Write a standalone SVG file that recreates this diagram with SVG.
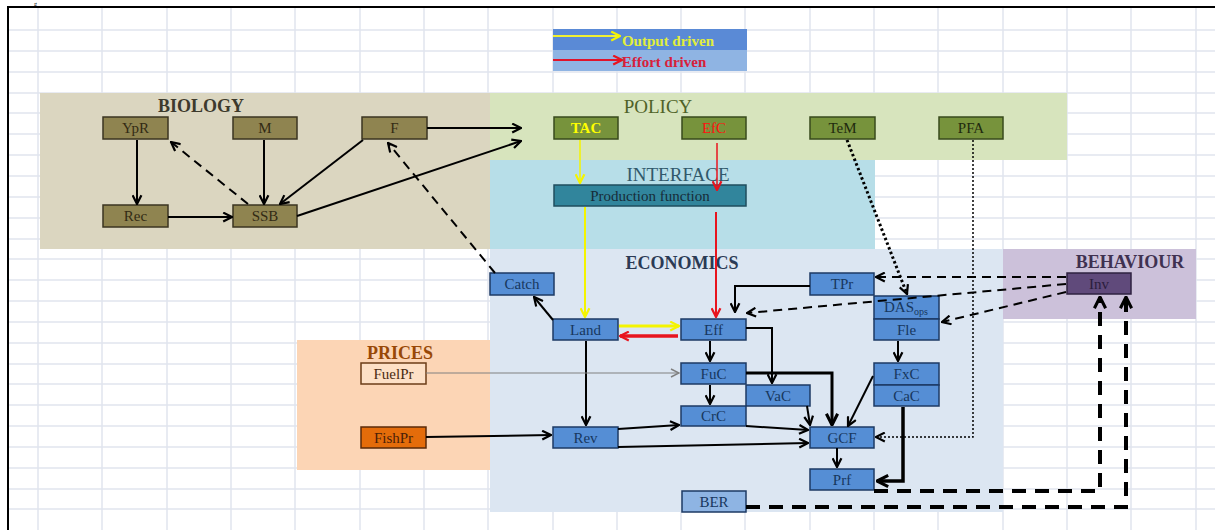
<svg xmlns="http://www.w3.org/2000/svg" width="1215" height="530" viewBox="0 0 1215 530">
<style>
text{font-family:"Liberation Serif","DejaVu Serif",serif;text-anchor:middle;dominant-baseline:central}
.grid line{stroke:#e1e5ee;stroke-width:1.5}
.lbl{font-size:18px;font-weight:bold}
.nt{font-size:15px}
.bio rect{fill:#8f8450;stroke:#3b3520;stroke-width:1.5}
.bio text{fill:#332b14}
.pol rect{fill:#77933c;stroke:#384a1c;stroke-width:1.5}
.pol text{fill:#1f2a0e}
.eco rect{fill:#558ed5;stroke:#1c3a64;stroke-width:1.5}
.eco text{fill:#17375e}
.k{fill:none;stroke:#000;stroke-width:2}
.dsh{stroke-dasharray:9 6}
.thk{stroke-width:3.5}
.tdsh{fill:none;stroke:#000;stroke-width:4;stroke-dasharray:14 9}
</style>
<defs>
<marker id="ak" viewBox="0 0 10 10" refX="9" refY="5" markerWidth="11" markerHeight="11" markerUnits="userSpaceOnUse" orient="auto"><path d="M1,1 L9,5 L1,9" fill="none" stroke="#000" stroke-width="2"/></marker>
<marker id="akb" viewBox="0 0 10 10" refX="9" refY="5" markerWidth="14" markerHeight="14" markerUnits="userSpaceOnUse" orient="auto"><path d="M1,1 L9,5 L1,9" fill="none" stroke="#000" stroke-width="2.2"/></marker>
<marker id="ay" viewBox="0 0 10 10" refX="9" refY="5" markerWidth="11" markerHeight="11" markerUnits="userSpaceOnUse" orient="auto"><path d="M1,1 L9,5 L1,9" fill="none" stroke="#f4f400" stroke-width="2"/></marker>
<marker id="ar" viewBox="0 0 10 10" refX="9" refY="5" markerWidth="11" markerHeight="11" markerUnits="userSpaceOnUse" orient="auto"><path d="M1,1 L9,5 L1,9" fill="none" stroke="#e8141e" stroke-width="2"/></marker>
<marker id="ag" viewBox="0 0 10 10" refX="9" refY="5" markerWidth="10" markerHeight="10" markerUnits="userSpaceOnUse" orient="auto"><path d="M1,1 L9,5 L1,9" fill="none" stroke="#808080" stroke-width="1.5"/></marker>
</defs>
<rect width="1215" height="530" fill="#fff"/>
<g class="grid">
<line x1="38" y1="7" x2="38" y2="530"/><line x1="102" y1="7" x2="102" y2="530"/><line x1="167" y1="7" x2="167" y2="530"/><line x1="231" y1="7" x2="231" y2="530"/><line x1="295" y1="7" x2="295" y2="530"/><line x1="360" y1="7" x2="360" y2="530"/><line x1="424" y1="7" x2="424" y2="530"/><line x1="488" y1="7" x2="488" y2="530"/><line x1="553" y1="7" x2="553" y2="530"/><line x1="617" y1="7" x2="617" y2="530"/><line x1="681" y1="7" x2="681" y2="530"/><line x1="745" y1="7" x2="745" y2="530"/><line x1="810" y1="7" x2="810" y2="530"/><line x1="874" y1="7" x2="874" y2="530"/><line x1="938" y1="7" x2="938" y2="530"/><line x1="1003" y1="7" x2="1003" y2="530"/><line x1="1067" y1="7" x2="1067" y2="530"/><line x1="1131" y1="7" x2="1131" y2="530"/><line x1="1196" y1="7" x2="1196" y2="530"/>
<line x1="8" y1="30" x2="1215" y2="30"/><line x1="8" y1="51" x2="1215" y2="51"/><line x1="8" y1="72" x2="1215" y2="72"/><line x1="8" y1="93" x2="1215" y2="93"/><line x1="8" y1="113" x2="1215" y2="113"/><line x1="8" y1="134" x2="1215" y2="134"/><line x1="8" y1="155" x2="1215" y2="155"/><line x1="8" y1="176" x2="1215" y2="176"/><line x1="8" y1="197" x2="1215" y2="197"/><line x1="8" y1="218" x2="1215" y2="218"/><line x1="8" y1="239" x2="1215" y2="239"/><line x1="8" y1="259" x2="1215" y2="259"/><line x1="8" y1="280" x2="1215" y2="280"/><line x1="8" y1="301" x2="1215" y2="301"/><line x1="8" y1="322" x2="1215" y2="322"/><line x1="8" y1="343" x2="1215" y2="343"/><line x1="8" y1="364" x2="1215" y2="364"/><line x1="8" y1="384" x2="1215" y2="384"/><line x1="8" y1="405" x2="1215" y2="405"/><line x1="8" y1="426" x2="1215" y2="426"/><line x1="8" y1="447" x2="1215" y2="447"/><line x1="8" y1="468" x2="1215" y2="468"/><line x1="8" y1="489" x2="1215" y2="489"/><line x1="8" y1="509" x2="1215" y2="509"/>
</g>
<g id="frame">
<line x1="7" y1="7" x2="1215" y2="7" stroke="#000" stroke-width="2"/>
<line x1="8" y1="7" x2="8" y2="530" stroke="#000" stroke-width="2"/>
<text x="34" y="5.5" style="font-size:6px;text-anchor:start;dominant-baseline:alphabetic" fill="#000">g</text>
</g>
<g id="regions">
<rect id="biology" x="40" y="93" width="450" height="156" fill="#dbd6c0"/>
<rect id="policy" x="490" y="93" width="577" height="67" fill="#d7e4bd"/>
<rect id="interface" x="490" y="160" width="385" height="89" fill="#b7dee8"/>
<rect id="economics" x="490" y="249" width="513" height="263" fill="#dce6f2"/>
<rect id="prices" x="297" y="340" width="193" height="130" fill="#fcd5b5"/>
<rect id="behaviour" x="1003" y="249" width="193" height="70" fill="#ccc1da"/>
<text class="lbl" x="201" y="106" fill="#3d3a2c">BIOLOGY</text>
<text x="658" y="106" style="font-size:19px" fill="#4f6228">POLICY</text>
<text x="678" y="174" style="font-size:19px" fill="#31596b">INTERFACE</text>
<text class="lbl" x="682" y="263" fill="#2b3a55">ECONOMICS</text>
<text class="lbl" x="400" y="353" fill="#984807">PRICES</text>
<text class="lbl" x="1130" y="262" fill="#3f3151">BEHAVIOUR</text>
</g>
<g id="legend">
<rect x="553" y="29" width="194" height="21" fill="#5a8ad6"/>
<rect x="553" y="50" width="194" height="21" fill="#8fb4e3"/>
<path d="M553,36 H620" fill="none" stroke="#f0f030" stroke-width="2" marker-end="url(#ay)"/>
<path d="M553,60 H622" fill="none" stroke="#e0142a" stroke-width="2" marker-end="url(#ar)"/>
<text x="668" y="41" style="font-size:15px;font-weight:bold" fill="#e2ee3c">Output driven</text>
<text x="664" y="62" style="font-size:15px;font-weight:bold" fill="#d8203a">Effort driven</text>
</g>
<g class="bio">
<g id="YpR"><rect x="103" y="117" width="65" height="22"/><text class="nt" x="135.5" y="128">YpR</text></g>
<g id="M"><rect x="233" y="117" width="64" height="22"/><text class="nt" x="265" y="128">M</text></g>
<g id="F"><rect x="362" y="117" width="65" height="22"/><text class="nt" x="394.5" y="128">F</text></g>
<g id="Rec"><rect x="103" y="205" width="65" height="22"/><text class="nt" x="135.5" y="216">Rec</text></g>
<g id="SSB"><rect x="233" y="205" width="64" height="22"/><text class="nt" x="265" y="216">SSB</text></g>
</g>
<g class="pol">
<g id="TAC"><rect x="554" y="117" width="64" height="22"/><text class="nt" x="586" y="128" style="fill:#ffff00;font-weight:bold">TAC</text></g>
<g id="EfC"><rect x="682" y="117" width="64" height="22"/><text class="nt" x="714" y="128" style="fill:#ff1010">EfC</text></g>
<g id="TeM"><rect x="810" y="117" width="65" height="22"/><text class="nt" x="842.5" y="128">TeM</text></g>
<g id="PFA"><rect x="939" y="117" width="64" height="22"/><text class="nt" x="971" y="128">PFA</text></g>
</g>
<g id="ProductionFunction"><rect x="554" y="185" width="192" height="21" fill="#31859c" stroke="#1f4e5e" stroke-width="1.5"/><text class="nt" x="650" y="195.5" fill="#172c38">Production function</text></g>
<g class="eco">
<g id="Catch"><rect x="490" y="273" width="64" height="22"/><text class="nt" x="522" y="284">Catch</text></g>
<g id="TPr"><rect x="810" y="273" width="64" height="22"/><text class="nt" x="842" y="284">TPr</text></g>
<g id="DASops"><rect x="874" y="296" width="65" height="23"/><text class="nt" x="906" y="307">DAS<tspan dy="4" style="font-size:10px">ops</tspan></text></g>
<g id="Fle"><rect x="874" y="319" width="65" height="21"/><text class="nt" x="906.5" y="329.5">Fle</text></g>
<g id="Land"><rect x="553" y="319" width="65" height="21"/><text class="nt" x="585.5" y="329.5">Land</text></g>
<g id="Eff"><rect x="681" y="319" width="65" height="21"/><text class="nt" x="713.5" y="329.5">Eff</text></g>
<g id="FuC"><rect x="681" y="363" width="65" height="21"/><text class="nt" x="713.5" y="373.5">FuC</text></g>
<g id="FxC"><rect x="874" y="363" width="65" height="22"/><text class="nt" x="906.5" y="374">FxC</text></g>
<g id="VaC"><rect x="746" y="385" width="64" height="21"/><text class="nt" x="778" y="395.5">VaC</text></g>
<g id="CaC"><rect x="874" y="385" width="65" height="21"/><text class="nt" x="906.5" y="395.5">CaC</text></g>
<g id="CrC"><rect x="681" y="406" width="65" height="20"/><text class="nt" x="713.5" y="416">CrC</text></g>
<g id="Rev"><rect x="553" y="427" width="65" height="21"/><text class="nt" x="585.5" y="437.5">Rev</text></g>
<g id="GCF"><rect x="810" y="427" width="64" height="21"/><text class="nt" x="842" y="437.5">GCF</text></g>
<g id="Prf"><rect x="810" y="469" width="64" height="21"/><text class="nt" x="842" y="479.5">Prf</text></g>
<g id="BER"><rect x="682" y="491" width="64" height="21" style="fill:#8eb4e3"/><text class="nt" x="714" y="501.5">BER</text></g>
</g>
<g id="FuelPr"><rect x="361" y="363" width="65" height="21" fill="#fde0c6" stroke="#6b3d17" stroke-width="1.5"/><text class="nt" x="393.5" y="373.5" fill="#4a2a10">FuelPr</text></g>
<g id="FishPr"><rect x="361" y="427" width="65" height="21" fill="#e46c0a" stroke="#5a2a08" stroke-width="1.5"/><text class="nt" x="393.5" y="437.5" fill="#4a1e08">FishPr</text></g>
<g id="Inv"><rect x="1067" y="273" width="64" height="21" fill="#604a7b" stroke="#2e2240" stroke-width="1.5"/><text class="nt" x="1099" y="283.5" fill="#2b1d3d">Inv</text></g>
<g id="connectors">
<path class="k" d="M137,140 V204" marker-end="url(#ak)"/>
<path class="k" d="M264,140 V204" marker-end="url(#ak)"/>
<path class="k" d="M168,217 H232" marker-end="url(#ak)"/>
<path class="k" d="M363,140 L280,204" marker-end="url(#ak)"/>
<path class="k dsh" d="M248,204 L171,142" marker-end="url(#ak)"/>
<path class="k" d="M427,128 H521" marker-end="url(#ak)"/>
<path class="k" d="M297,216 L521,141" marker-end="url(#ak)"/>
<path class="k dsh" d="M495,273 L388,143" marker-end="url(#ak)"/>
<path d="M580,140 V183" fill="none" stroke="#f4f400" stroke-width="1.5" marker-end="url(#ay)"/>
<path d="M585,207 V317" fill="none" stroke="#f4f400" stroke-width="2" marker-end="url(#ay)"/>
<path d="M717,143 V190" fill="none" stroke="#e8141e" stroke-width="1.5" marker-end="url(#ar)"/>
<path d="M716,212 V317" fill="none" stroke="#e8141e" stroke-width="2" marker-end="url(#ar)"/>
<path d="M619,326 H679" fill="none" stroke="#f4f400" stroke-width="3" marker-end="url(#ay)"/>
<path d="M678,336 H620" fill="none" stroke="#e8141e" stroke-width="3.5" marker-end="url(#ar)"/>
<path class="k" d="M553,320 L534,297" marker-end="url(#ak)"/>
<path class="k" d="M586,341 V425" marker-end="url(#ak)"/>
<path class="k" d="M426,437 L551,435" marker-end="url(#ak)"/>
<path d="M426,373 H679" fill="none" stroke="#808080" stroke-width="1" marker-end="url(#ag)"/>
<path class="k" d="M618,429 L679,425" marker-end="url(#ak)"/>
<path class="k" d="M618,447 L808,443" marker-end="url(#ak)"/>
<path class="k" d="M746,426 L808,430" marker-end="url(#ak)"/>
<path class="k" d="M710,341 V361" marker-end="url(#ak)"/>
<path class="k" d="M710,385 V404" marker-end="url(#ak)"/>
<path class="k" d="M746,328 H772 V383" marker-end="url(#ak)"/>
<path class="k" d="M746,373 H832 V425" style="stroke-width:3" marker-end="url(#akb)"/>
<path class="k" d="M807,406 L810,425" marker-end="url(#ak)"/>
<path class="k" d="M873,376 L848,426" marker-end="url(#ak)"/>
<path class="k" d="M837,448 V467" marker-end="url(#ak)"/>
<path class="k thk" d="M903,407 V481 H877" marker-end="url(#akb)"/>
<path class="k" d="M898,341 V361" marker-end="url(#ak)"/>
<path class="k" d="M810,286 H735 V312" marker-end="url(#ak)"/>
<path d="M847,140 L907,294" fill="none" stroke="#000" stroke-width="3" stroke-dasharray="2.5 2.5" marker-end="url(#ak)"/>
<path d="M973,140 V437 H876" fill="none" stroke="#000" stroke-width="1.5" stroke-dasharray="2 2" marker-end="url(#ak)"/>
<path class="k dsh" d="M1066,277 L876,277" marker-end="url(#ak)"/>
<path class="k dsh" d="M1066,284 L747,313" marker-end="url(#ak)"/>
<path class="k dsh" d="M1066,292 L942,322" marker-end="url(#ak)"/>
<path class="tdsh" d="M874,491 H1100 V297" marker-end="url(#akb)"/>
<path class="tdsh" d="M746,507 H1126 V297" marker-end="url(#akb)"/>
</g>
</svg>
